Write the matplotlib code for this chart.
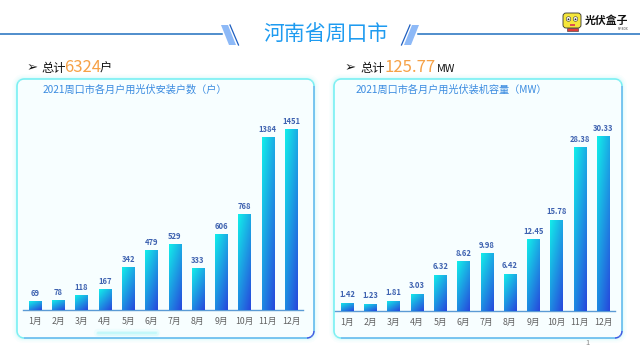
import numpy as np
import matplotlib
matplotlib.use('Agg')
import matplotlib.pyplot as plt
from matplotlib.patches import FancyBboxPatch, Polygon, Circle, Rectangle
from matplotlib.collections import LineCollection
from matplotlib.colors import to_rgb

plt.rcParams['font.family'] = ['Noto Sans CJK SC', 'DejaVu Sans']

# data
months = ['1月', '2月', '3月', '4月', '5月', '6月', '7月', '8月', '9月', '10月', '11月', '12月']
installs = [69, 78, 118, 167, 342, 479, 529, 333, 606, 768, 1384, 1451]
capacity = [1.42, 1.23, 1.81, 3.03, 6.32, 8.62, 9.98, 6.42, 12.45, 15.78, 28.38, 30.33]
total_installs = '6324'
total_capacity = '125.77'

W, H = 640, 360
CYAN = np.array(to_rgb('#12EFEA'))
BLUE = np.array(to_rgb('#2746DC'))

fig = plt.figure(figsize=(6.4, 3.6), dpi=100)
fig.patch.set_facecolor('white')

# background axis in pixel coordinates (y down)
bg = fig.add_axes([0, 0, 1, 1])
bg.set_xlim(0, W)
bg.set_ylim(H, 0)
bg.axis('off')


def px_axes(x0, y0, x1, y1):
    # axes from pixel box
    return fig.add_axes([x0 / W, 1 - y1 / H, (x1 - x0) / W, (y1 - y0) / H])


# title lines and slashes
bg.plot([0, 222], [34, 34], color='#1F6FBF', lw=1.1)
bg.plot([418, 640], [34, 34], color='#1F6FBF', lw=1.1)
bg.add_patch(Polygon([(221, 25), (228, 25), (236, 45), (229, 45)], closed=True,
                     color='#8DB9F7', lw=0))
bg.plot([230, 238.5], [25, 45], color='#1F5FC0', lw=0.9)
bg.add_patch(Polygon([(412, 25), (419, 25), (411, 45), (404, 45)], closed=True,
                     color='#8DB9F7', lw=0))
bg.plot([410, 401.5], [25, 45], color='#1F5FC0', lw=0.9)
bg.text(326, 35, '河南省周口市', fontsize=15, color='#1E9BF0', ha='center', va='center')

# logo
bg.add_patch(FancyBboxPatch((563, 13), 18, 15, boxstyle='round,pad=0,rounding_size=3',
                            fc='#F5E63A', ec='#333333', lw=0.6))
bg.add_patch(Rectangle((566.5, 28), 11, 3, fc='#E03A3A', ec='#333333', lw=0.4))
for ex in (568.5, 575.5):
    bg.add_patch(Circle((ex, 19), 2.3, fc='white', ec='#333333', lw=0.4))
    bg.add_patch(Circle((ex, 19.3), 0.9, fc='#222222', lw=0))
bg.add_patch(Rectangle((569.5, 23.5), 5, 2, fc='#E05050', lw=0))
bg.text(585, 21, '光伏盒子', fontsize=7.8, fontweight='bold', color='#111111',
        ha='left', va='center')
bg.text(628, 28.5, 'PV-BOX', fontsize=2.2, color='#333333', ha='right', va='center')


def panel(x0, y0, x1, y1):
    # glow
    for lw, a in [(7, 0.05), (4.5, 0.08), (2.5, 0.12)]:
        bg.add_patch(FancyBboxPatch((x0, y0), x1 - x0, y1 - y0,
                                    boxstyle='round,pad=0,rounding_size=7',
                                    fc='none', ec='#8FF3F3', lw=lw, alpha=a))
    bg.add_patch(FancyBboxPatch((x0, y0), x1 - x0, y1 - y0,
                                boxstyle='round,pad=0,rounding_size=7',
                                fc='#F7FEFF', ec='none'))
    # gradient border
    r = 7
    pts = []
    for cx, cy, a0 in [(x1 - r, y0 + r, -90), (x1 - r, y1 - r, 0),
                       (x0 + r, y1 - r, 90), (x0 + r, y0 + r, 180)]:
        ang = np.radians(np.linspace(a0, a0 + 90, 12))
        pts += list(zip(cx + r * np.cos(ang), cy + r * np.sin(ang)))
    pts.append(pts[0])
    pts = np.array(pts)
    segs = np.stack([pts[:-1], pts[1:]], axis=1)
    mid = segs.mean(axis=1)
    u = (mid[:, 0] - x0) / (x1 - x0)
    v = (mid[:, 1] - y0) / (y1 - y0)
    t = np.clip((u * v) ** 1.5, 0, 1)[:, None]
    cols = (np.array(to_rgb('#6FEFF2')) * (1 - t) + np.array(to_rgb('#2C4BE0')) * t)
    bg.add_collection(LineCollection(segs, colors=cols, lw=1.1))


panel(17, 79, 314, 338)
panel(334, 79, 622, 338)

# little glow under the left panel
for lw, a in [(6, 0.08), (3.5, 0.15), (1.5, 0.25)]:
    bg.plot([98, 156], [333, 333], color='#7FF5F5', lw=lw, alpha=a, solid_capstyle='round')

# headings
bg.text(27, 68, '➢', fontsize=9.5, color='#111111', ha='left', va='center')
bg.text(41, 68.5, '总计', fontsize=8.8, color='#111111', ha='left', va='center')
bg.text(64, 67.5, total_installs, fontsize=12, color='#F6A146', ha='left', va='center')
bg.text(100, 68.5, '户', fontsize=8.8, color='#111111', ha='left', va='center')
bg.text(345, 68, '➢', fontsize=9.5, color='#111111', ha='left', va='center')
bg.text(360, 68.5, '总计', fontsize=8.8, color='#111111', ha='left', va='center')
bg.text(384, 67.5, total_capacity, fontsize=12, color='#F6A146', ha='left', va='center')
bg.text(437, 69, 'MW', fontsize=7.8, color='#111111', ha='left', va='center')

bg.text(43, 90, '2021周口市各月户用光伏安装户数（户）', fontsize=7.3, color='#3A8BE0',
        ha='left', va='center')
bg.text(356, 90, '2021周口市各月户用光伏装机容量（MW）', fontsize=7.3, color='#3A8BE0',
        ha='left', va='center')
bg.text(588, 343, '1', fontsize=5.5, color='#888888', ha='center', va='center')


def gradient_bars(ax, values, ytop, fmt):
    x = np.arange(len(values))
    bars = ax.bar(x, values, width=0.52, color=CYAN, zorder=2)
    uu = np.linspace(0, 1, 40)[None, :]
    vv = np.linspace(0, 1, 80)[:, None]
    t = np.clip(0.4 * uu + 0.6 * vv, 0, 1)[..., None]
    img = CYAN * (1 - t) + BLUE * t
    for b in bars:
        im = ax.imshow(img, extent=[b.get_x(), b.get_x() + b.get_width(), 0, b.get_height()],
                       aspect='auto', origin='upper', zorder=3, interpolation='bilinear')
        im.set_clip_path(b)
    for xi, val in zip(x, values):
        ax.annotate(fmt(val), (xi, val), xytext=(0, 2.5), textcoords='offset points',
                    ha='center', va='bottom', fontsize=5.5, fontweight='bold',
                    color='#3E62B0')
    ax.set_xlim(-0.5, len(values) - 0.5)
    ax.set_ylim(0, ytop)
    ax.set_facecolor('none')
    for s in ['top', 'right', 'left']:
        ax.spines[s].set_visible(False)
    ax.spines['bottom'].set_color('#5B9BD5')
    ax.spines['bottom'].set_linewidth(1.0)
    ax.set_yticks([])
    ax.set_xticks(x)
    ax.set_xticklabels(months, fontsize=6.3, color='#606060')
    ax.tick_params(axis='x', length=0, pad=5)


ax1 = px_axes(23.35, 100, 302.6, 310)
gradient_bars(ax1, installs, 1451 * 210 / 181, lambda v: str(v))

ax2 = px_axes(335.35, 100, 614.6, 311)
gradient_bars(ax2, capacity, 30.33 * 211 / 175, lambda v: f'{v:.2f}')

fig.savefig('out.png', dpi=100)
